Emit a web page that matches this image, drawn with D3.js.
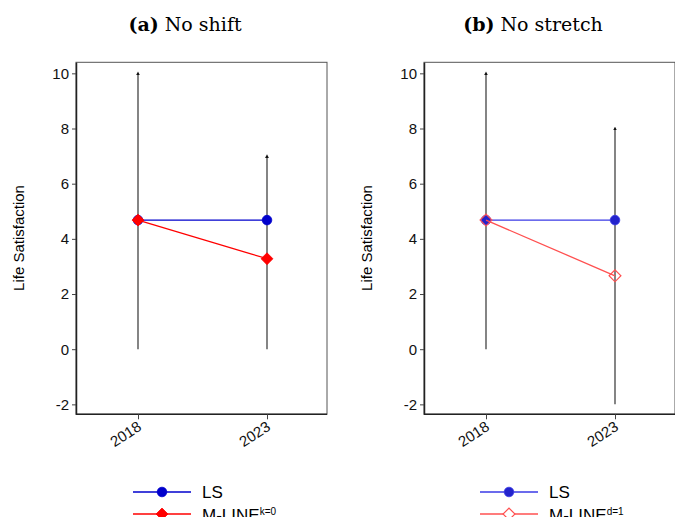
<!DOCTYPE html>
<html>
<head>
<meta charset="utf-8">
<script src="https://cdn.jsdelivr.net/npm/d3@7"></script>
<style>
  body { margin: 0; background: #fff; }
  svg { display: block; }
</style>
</head>
<body>
<div id="chart"></div>
<script>
const years = ['2018', '2023'];
const yTicks = [-2, 0, 2, 4, 6, 8, 10];
const lsValues = [4.68, 4.68];
const mlineNoShift = [4.68, 3.28];
const mlineNoStretch = [4.68, 2.66];
const rangeLowNoShift = [0, 0];
const rangeHighNoShift = [10, 7];
const rangeLowNoStretch = [0, -2];
const rangeHighNoStretch = [10, 8];

const width = 675;
const height = 517;
const plotW = 251;
const plotH = 352;

const panels = [
  {
    left: 76, title: ['(a)', ' No shift'], labelX: 24, legendX: 133,
    mline: mlineNoShift, low: rangeLowNoShift, high: rangeHighNoShift,
    lsLine: '#0000cc', lsFill: '#0000cc', mColor: '#ff0000', hollow: false, sup: 'k=0'
  },
  {
    left: 424, title: ['(b)', ' No stretch'], labelX: 372, legendX: 480,
    mline: mlineNoStretch, low: rangeLowNoStretch, high: rangeHighNoStretch,
    lsLine: '#3a3ae6', lsFill: '#2323cc', mColor: '#ff5050', hollow: true, sup: 'd=1'
  }
];

const svg = d3.select('#chart').append('svg')
  .attr('width', width)
  .attr('height', height);

svg.append('defs').append('marker')
  .attr('id', 'arrow')
  .attr('viewBox', '0 0 6 6')
  .attr('refX', 3)
  .attr('refY', 3)
  .attr('markerWidth', 3.2)
  .attr('markerHeight', 3.2)
  .attr('orient', 'auto')
  .append('path')
  .attr('d', 'M0,0 L6,3 L0,6 Z')
  .attr('fill', '#111');

const x = d3.scalePoint().domain(years).range([62, 191]);
const y = d3.scaleLinear().domain([-2.36, 10.4]).range([plotH, 0]);

const diamond = d3.symbol(d3.symbolSquare, 70);
const sans = '"Liberation Sans", Arial, sans-serif';

panels.forEach(p => {
  // title
  const t = svg.append('text')
    .attr('x', p.left + 109)
    .attr('y', 31)
    .attr('text-anchor', 'middle')
    .style('font-family', '"DejaVu Serif", "Liberation Serif", serif')
    .style('font-size', '19px');
  t.append('tspan').style('font-weight', 'bold').text(p.title[0]);
  t.append('tspan').text(p.title[1]);

  // y label
  svg.append('text')
    .attr('transform', `translate(${p.labelX},238) rotate(-90)`)
    .attr('text-anchor', 'middle')
    .style('font-family', sans)
    .style('font-size', '15px')
    .text('Life Satisfaction');

  const g = svg.append('g').attr('transform', `translate(${p.left},62.3)`);

  // frame
  g.append('rect')
    .attr('width', plotW)
    .attr('height', plotH)
    .attr('fill', 'none')
    .attr('stroke', '#555')
    .attr('stroke-width', 1);

  const yAxis = g.append('g')
    .call(d3.axisLeft(y).tickValues(yTicks).tickSize(4).tickSizeOuter(0).tickFormat(d => String(d)));
  yAxis.select('.domain').attr('stroke', '#222').attr('stroke-width', 1.5);
  yAxis.selectAll('.tick line').attr('stroke', '#444');
  yAxis.selectAll('text')
    .attr('x', -7)
    .style('font-family', sans)
    .style('font-size', '15px')
    .attr('fill', '#111');

  const xAxis = g.append('g')
    .attr('transform', `translate(0,${plotH})`)
    .call(d3.axisBottom(x).tickSize(5).tickSizeOuter(0));
  xAxis.select('.domain').attr('d', `M0,0H${plotW}`).attr('stroke', '#222').attr('stroke-width', 1.5);
  xAxis.selectAll('.tick line').attr('stroke', '#444');
  xAxis.selectAll('text')
    .attr('text-anchor', 'end')
    .attr('dy', 0)
    .attr('y', 0)
    .attr('transform', 'translate(4,15) rotate(-33)')
    .style('font-family', sans)
    .style('font-size', '15px')
    .attr('fill', '#111');

  // range spikes
  g.selectAll('.range')
    .data(years)
    .enter()
    .append('line')
    .attr('class', 'range')
    .attr('x1', d => x(d))
    .attr('x2', d => x(d))
    .attr('y1', (d, i) => y(p.low[i]))
    .attr('y2', (d, i) => y(p.high[i]))
    .attr('stroke', '#333')
    .attr('stroke-width', 1.2)
    .attr('marker-end', 'url(#arrow)');

  // LS
  const lineGen = d3.line().x((d, i) => x(years[i])).y(d => y(d));
  g.append('path')
    .attr('d', lineGen(lsValues))
    .attr('fill', 'none')
    .attr('stroke', p.lsLine)
    .attr('stroke-width', 1.3);
  g.selectAll('.ls')
    .data(lsValues)
    .enter()
    .append('circle')
    .attr('class', 'ls')
    .attr('cx', (d, i) => x(years[i]))
    .attr('cy', d => y(d))
    .attr('r', 4.8)
    .attr('fill', p.lsFill)
    .attr('stroke', p.lsLine)
    .attr('stroke-width', 0.8);

  // M-LINE
  g.append('path')
    .attr('d', lineGen(p.mline))
    .attr('fill', 'none')
    .attr('stroke', p.mColor)
    .attr('stroke-width', 1.3);
  g.selectAll('.ml')
    .data(p.mline)
    .enter()
    .append('path')
    .attr('class', 'ml')
    .attr('d', diamond)
    .attr('transform', (d, i) => `translate(${x(years[i])},${y(d)}) rotate(45)`)
    .attr('fill', p.hollow ? 'none' : p.mColor)
    .attr('stroke', p.mColor)
    .attr('stroke-width', p.hollow ? 1.2 : 0.8);

  // legend
  const leg = svg.append('g').attr('transform', `translate(${p.legendX},0)`);
  leg.append('line')
    .attr('x1', 0).attr('x2', 58).attr('y1', 492).attr('y2', 492)
    .attr('stroke', p.lsLine).attr('stroke-width', 1.3);
  leg.append('circle')
    .attr('cx', 29).attr('cy', 492).attr('r', 4.8)
    .attr('fill', p.lsFill).attr('stroke', p.lsLine).attr('stroke-width', 0.8);
  leg.append('text')
    .attr('x', 69).attr('y', 498)
    .style('font-family', sans)
    .style('font-size', '17px')
    .text('LS');
  leg.append('line')
    .attr('x1', 0).attr('x2', 58).attr('y1', 514).attr('y2', 514)
    .attr('stroke', p.mColor).attr('stroke-width', 1.3);
  leg.append('path')
    .attr('d', diamond)
    .attr('transform', 'translate(29,514) rotate(45)')
    .attr('fill', p.hollow ? '#fff' : p.mColor)
    .attr('stroke', p.mColor)
    .attr('stroke-width', p.hollow ? 1.2 : 0.8);
  const lt = leg.append('text')
    .attr('x', 69).attr('y', 521)
    .style('font-family', sans)
    .style('font-size', '17px')
    .text('M-LINE');
  lt.append('tspan')
    .attr('dy', -6)
    .style('font-size', '10px')
    .text(p.sup);
});
</script>
</body>
</html>
